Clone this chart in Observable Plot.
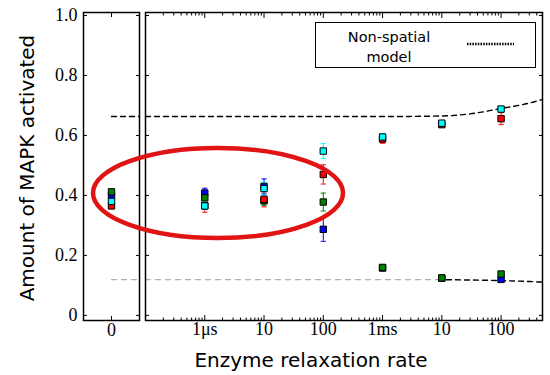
<!DOCTYPE html>
<html><head><meta charset="utf-8">
<script src="https://cdn.jsdelivr.net/npm/d3@7"></script>
<script src="https://cdn.jsdelivr.net/npm/@observablehq/plot@0.6"></script>
<style>
body{margin:0;background:#fff;}
#wrap{position:relative;width:550px;height:375px;overflow:hidden;background:#fff;}
#wrap > svg{position:absolute;top:0;}
.lab{position:absolute;font-family:"DejaVu Sans",sans-serif;color:#000;white-space:nowrap;}
#legend{position:absolute;left:315px;top:22px;width:221px;height:46px;border:1px solid #000;background:#fff;box-sizing:border-box;font-family:"DejaVu Sans",sans-serif;font-size:14.5px;}
</style></head><body><div id="wrap"></div>
<script>
// ---------- data ----------
const rates = [0, 1, 10, 100, 1000, 10000, 100000];          // enzyme relaxation time, in µs (0 = left panel)
const rateTicks = [1, 10, 100, 1000, 10000, 100000];
const rateTickLabels = ["1μs", "10", "100", "1ms", "10", "100"];
const zeroTicks = [0];
const zeroTickLabels = ["0"];
const yTicks = [0, 0.2, 0.4, 0.6, 0.8, 1.0];
const yTickLabels = ["0", "0.2", "0.4", "0.6", "0.8", "1.0"];

const seriesNames  = ["blue", "green", "red", "cyan"];     // drawing order
const seriesColors = ["#1c2bc9", "#1f8a22", "#e3161c", "#2fd4e0"];

const blueValues  = [0.400, 0.408, 0.430, 0.287, 0.158, 0.124, 0.120];
const blueErr     = [0.008, 0.016, 0.025, 0.040, 0.005, 0.004, 0.006];
const greenValues = [0.412, 0.392, 0.382, 0.378, 0.160, 0.125, 0.138];
const greenErr    = [0.006, 0.010, 0.015, 0.030, 0.005, 0.004, 0.006];
const redValues   = [0.365, 0.366, 0.387, 0.470, 0.588, 0.636, 0.656];
const redErr      = [0.008, 0.022, 0.025, 0.032, 0.014, 0.008, 0.020];
const cyanValues  = [0.380, 0.365, 0.423, 0.548, 0.595, 0.641, 0.688];
const cyanErr     = [0.008, 0.012, 0.022, 0.025, 0.010, 0.006, 0.008];

// non-spatial model curves
const modelUpperRates  = [0.1, 1000, 10000, 30000, 100000, 300000, 500000];
const modelUpperValues = [0.663, 0.663, 0.665, 0.672, 0.690, 0.708, 0.720];
const modelLowerRates  = [12000, 30000, 100000, 300000, 500000];
const modelLowerValues = [0.119, 0.118, 0.116, 0.113, 0.111];
const baselineRates    = [0.1, 12000];
const baselineValues   = [0.119, 0.119];
const zeroModelX       = [0, 1];
const zeroUpperValues  = [0.663, 0.663];
const zeroLowerValues  = [0.119, 0.119];

// ---------- build tables ----------
const allValues = [blueValues, greenValues, redValues, cyanValues];
const allErr = [blueErr, greenErr, redErr, cyanErr];
const rows = [];
seriesNames.forEach((s, k) => rates.forEach((r, i) =>
  rows.push({series: s, rate: r, value: allValues[k][i], err: allErr[k][i]})));
const zeroRows = rows.filter(d => d.rate === 0);
const posRows = rows.filter(d => d.rate > 0);
const upper = modelUpperRates.map((r, i) => ({rate: r, value: modelUpperValues[i]}));
const lower = modelLowerRates.map((r, i) => ({rate: r, value: modelLowerValues[i]}));
const base = baselineRates.map((r, i) => ({rate: r, value: baselineValues[i]}));
const zUpper = zeroModelX.map((r, i) => ({rate: r, value: zeroUpperValues[i]}));
const zLower = zeroModelX.map((r, i) => ({rate: r, value: zeroLowerValues[i]}));

const capSymbol = {draw(ctx, size) { const r = 2.6; ctx.moveTo(-r, 0); ctx.lineTo(r, 0); }};

const H = 375;
const yDomain = [-0.017, 1.01];
const common = {
  height: H, marginTop: 12, marginBottom: 55,
  y: {domain: yDomain, label: null},
  color: {domain: seriesNames, range: seriesColors},
  style: {fontFamily: "'Liberation Serif', serif", fontSize: "18px", color: "black", background: "transparent", overflow: "visible"}
};
const noText = () => "";

function dataMarks(data) {
  return [
    Plot.ruleX(data, {x: "rate", y1: d => d.value - d.err, y2: d => d.value + d.err, stroke: "series", strokeWidth: 1}),
    Plot.dot(data, {x: "rate", y: d => d.value - d.err, symbol: capSymbol, stroke: "series", strokeWidth: 1, r: 2}),
    Plot.dot(data, {x: "rate", y: d => d.value + d.err, symbol: capSymbol, stroke: "series", strokeWidth: 1, r: 2}),
    Plot.dot(data, {x: "rate", y: "value", symbol: "square", r: 3.6, fill: "series", stroke: "black", strokeWidth: 1})
  ];
}

const left = Plot.plot({
  ...common,
  width: 141, marginLeft: 83, marginRight: 2,
  x: {domain: [-1, 1], label: null},
  marks: [
    Plot.line(zUpper, {x: "rate", y: "value", stroke: "black", strokeWidth: 1.4, strokeDasharray: "5,4"}),
    Plot.line(zLower, {x: "rate", y: "value", stroke: "#9a9a9a", strokeWidth: 1, strokeDasharray: "5,5"}),
    ...dataMarks(zeroRows),
    Plot.axisY(yTicks, {anchor: "left", tickSize: -4, tickPadding: 10, label: null, tickFormat: d => yTickLabels[yTicks.indexOf(d)]}),
    Plot.axisY(yTicks, {anchor: "right", tickSize: -4, label: null, tickFormat: noText}),
    Plot.axisX(zeroTicks, {anchor: "bottom", tickSize: -4, tickPadding: 7, label: null, tickFormat: d => zeroTickLabels[zeroTicks.indexOf(d)]}),
    Plot.axisX(zeroTicks, {anchor: "top", tickSize: -4, label: null, tickFormat: noText}),
    Plot.frame({stroke: "black", strokeWidth: 1.5})
  ]
});

const minorTicks = d3.scaleLog().domain([0.1, 5e5]).ticks().filter(t => !rateTicks.includes(t) && t !== 0.1);
const right = Plot.plot({
  ...common,
  width: 410, marginLeft: 5, marginRight: 8,
  x: {type: "log", domain: [0.1, 5e5], label: null},
  marks: [
    Plot.line(base, {x: "rate", y: "value", stroke: "#9a9a9a", strokeWidth: 1, strokeDasharray: "5,5"}),
    Plot.line(lower, {x: "rate", y: "value", stroke: "black", strokeWidth: 1.4, strokeDasharray: "5,4", curve: "monotone-x"}),
    Plot.line(upper, {x: "rate", y: "value", stroke: "black", strokeWidth: 1.4, strokeDasharray: "5,4", curve: "monotone-x"}),
    ...dataMarks(posRows),
    Plot.axisX(rateTicks, {anchor: "bottom", tickSize: -5, tickPadding: 7, label: null, tickFormat: d => rateTickLabels[rateTicks.indexOf(d)]}),
    Plot.axisX(minorTicks, {anchor: "bottom", tickSize: -2.5, label: null, tickFormat: noText}),
    Plot.axisX(rateTicks, {anchor: "top", tickSize: -5, label: null, tickFormat: noText}),
    Plot.axisX(minorTicks, {anchor: "top", tickSize: -2.5, label: null, tickFormat: noText}),
    Plot.axisY(yTicks, {anchor: "left", tickSize: -4, label: null, tickFormat: noText}),
    Plot.axisY(yTicks, {anchor: "right", tickSize: -4, label: null, tickFormat: noText}),
    Plot.frame({stroke: "black", strokeWidth: 1.5})
  ]
});

const wrap = document.getElementById("wrap");
left.style.left = "0px";
right.style.left = "140px";
wrap.appendChild(left);
wrap.appendChild(right);

// legend
const legend = document.createElement("div");
legend.id = "legend";
legend.innerHTML = `<div style="position:absolute;left:0;width:146px;top:4px;text-align:center;line-height:20px">Non-spatial<br>model</div>
<svg style="position:absolute;left:151px;top:19px" width="48" height="4"><line x1="0" y1="2" x2="47" y2="2" stroke="#000" stroke-width="2.5" stroke-dasharray="1.5,1.2"/></svg>`;
wrap.appendChild(legend);

// axis labels
const xl = document.createElement("div");
xl.className = "lab"; xl.textContent = "Enzyme relaxation rate";
xl.style.cssText += "left:111px;width:400px;text-align:center;top:348px;font-size:20px;line-height:24px;";
wrap.appendChild(xl);
const yl = document.createElement("div");
yl.className = "lab"; yl.textContent = "Amount of MAPK activated";
yl.style.cssText += "left:-173px;width:400px;text-align:center;top:156px;font-size:20px;line-height:24px;transform:rotate(-90deg);";
wrap.appendChild(yl);

// hand-drawn red ellipse annotation
const ns = "http://www.w3.org/2000/svg";
const ann = document.createElementNS(ns, "svg");
ann.setAttribute("width", 550); ann.setAttribute("height", 375);
ann.style.cssText = "position:absolute;left:0;top:0;pointer-events:none";
const el = document.createElementNS(ns, "ellipse");
el.setAttribute("cx", 218); el.setAttribute("cy", 193); el.setAttribute("rx", 125); el.setAttribute("ry", 45);
el.setAttribute("fill", "none"); el.setAttribute("stroke", "#e01414"); el.setAttribute("stroke-width", 4.5);
ann.appendChild(el);
wrap.appendChild(ann);
</script></body></html>
